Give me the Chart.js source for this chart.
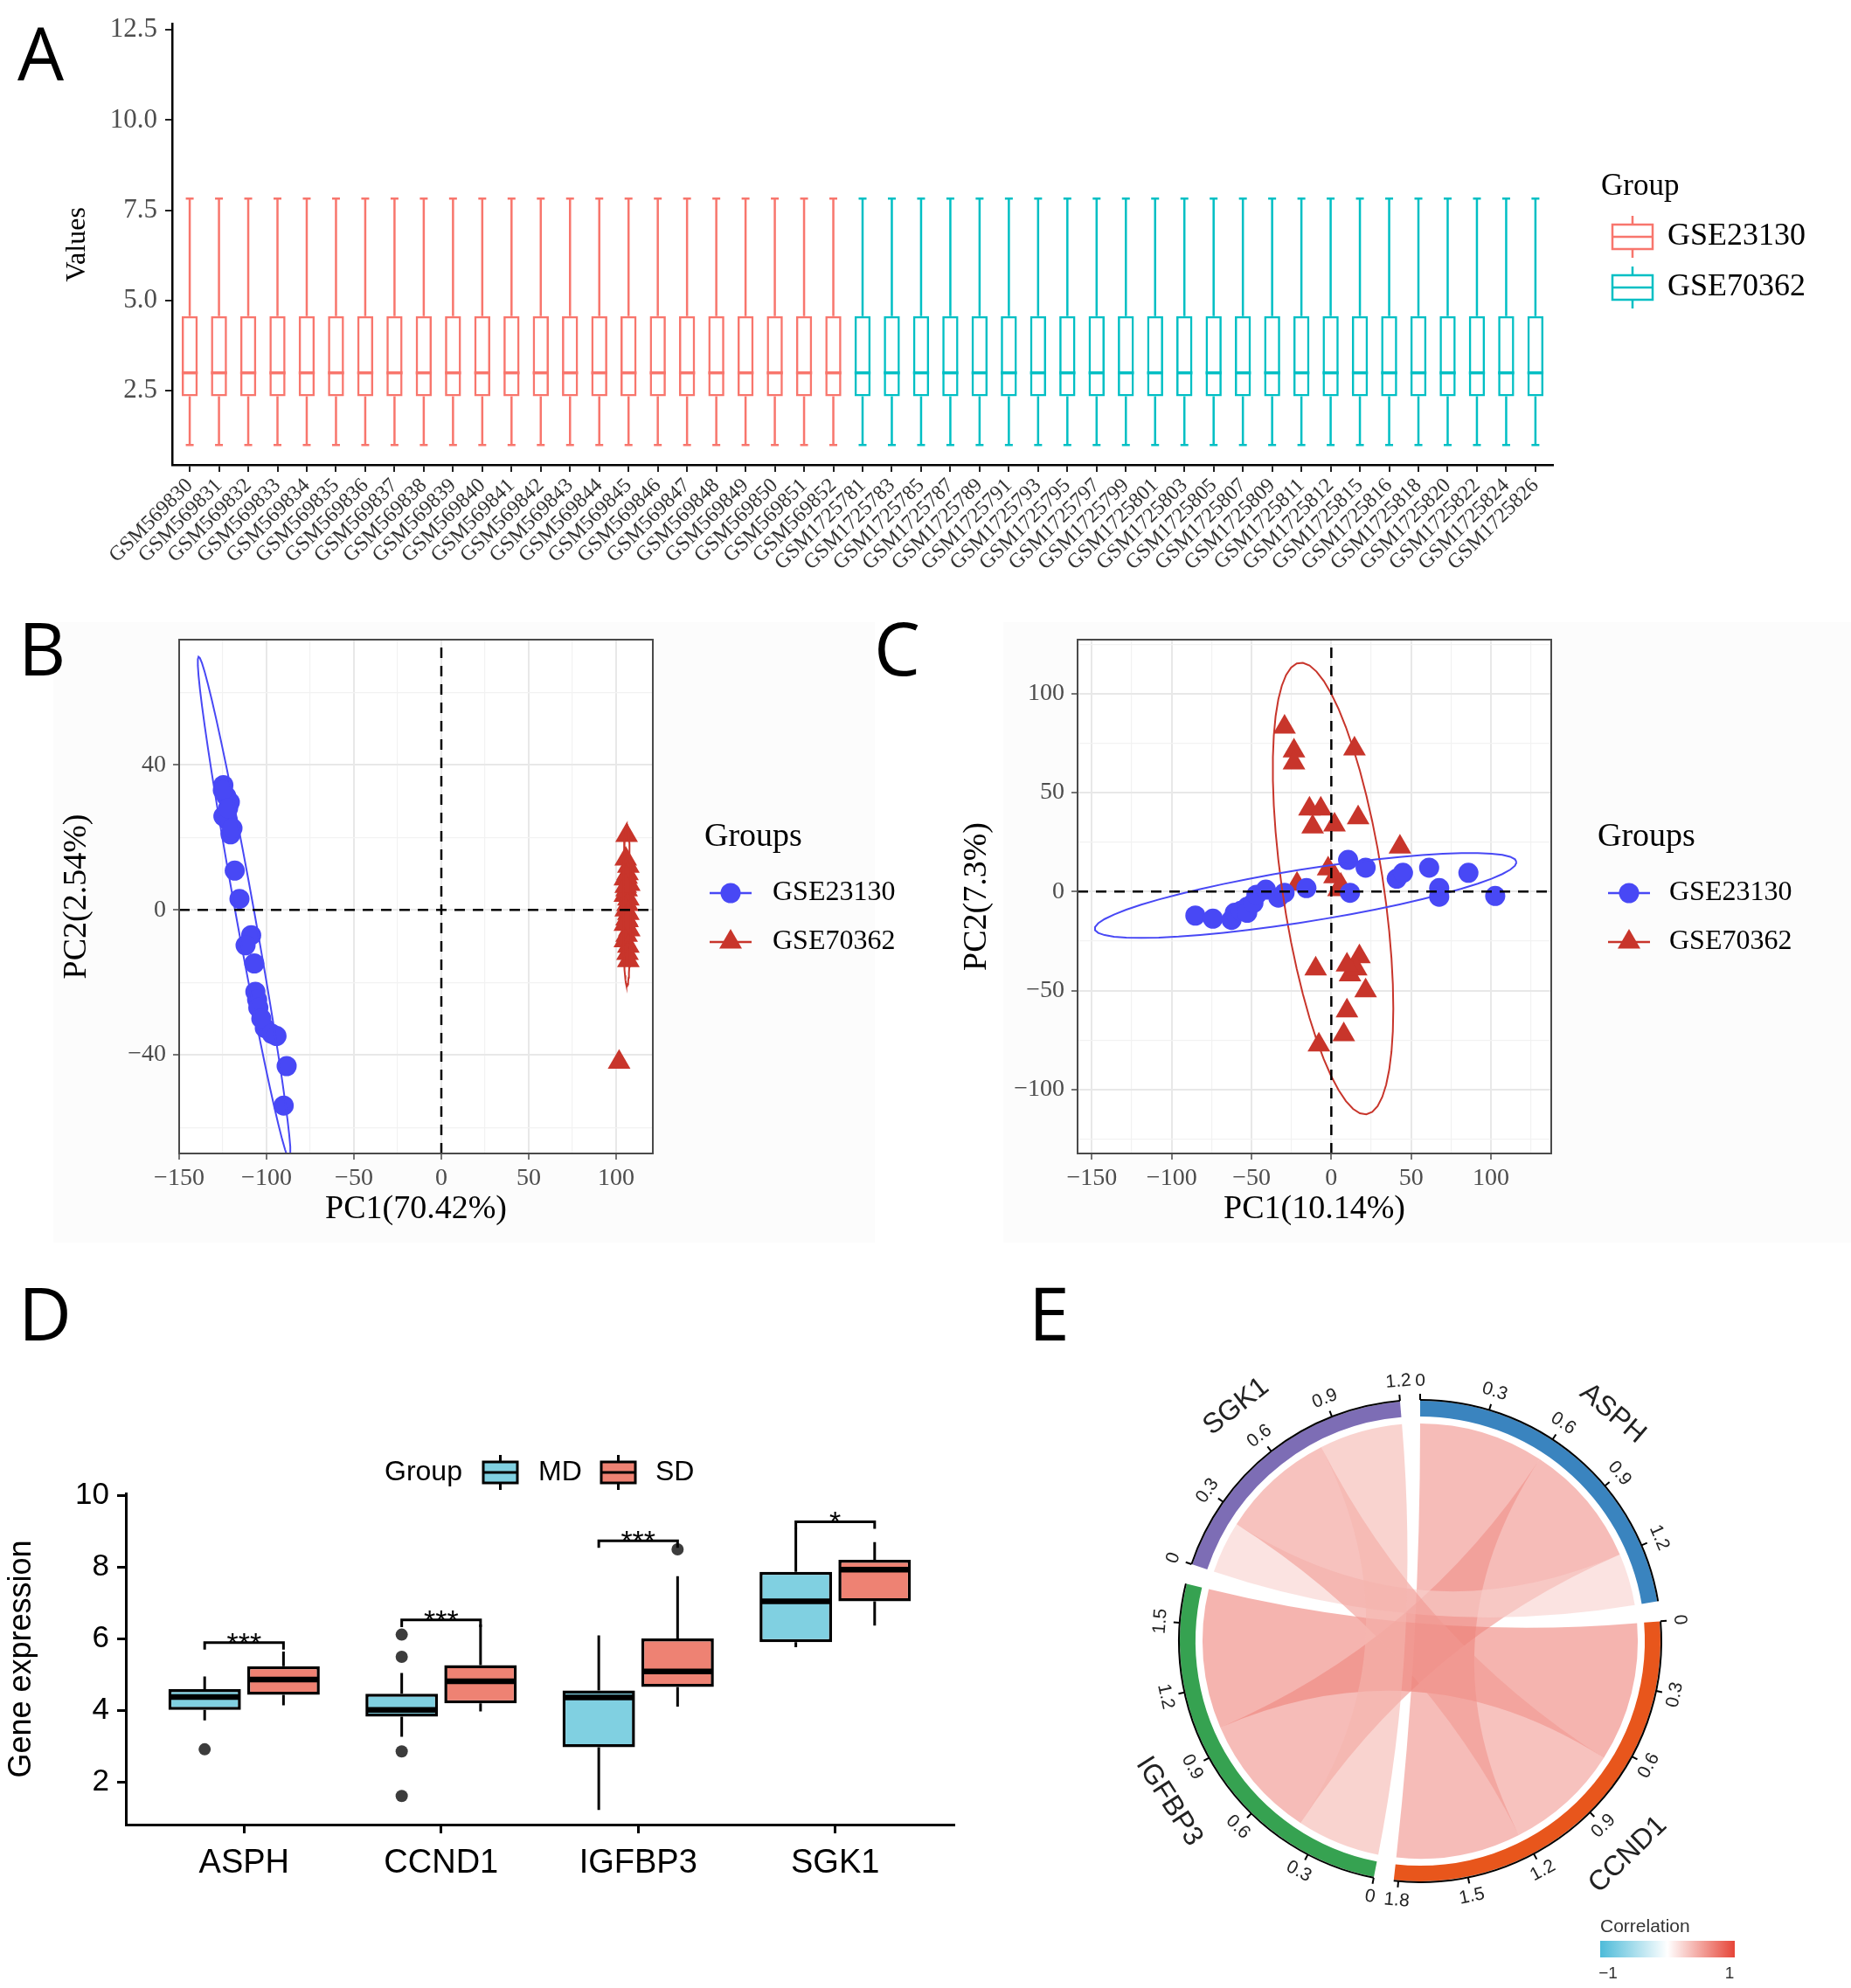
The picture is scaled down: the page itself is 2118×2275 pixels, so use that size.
<!DOCTYPE html>
<html lang="en">
<head>
  <meta charset="UTF-8">
  <title>Batch effect, PCA and hub gene figure</title>
  <style>
    body { margin: 0; background: #ffffff; }
    #page { position: relative; width: 2118px; height: 2275px; background: #ffffff; overflow: hidden; }
    canvas { position: absolute; }
    .shade { position: absolute; background: #fcfcfc; }
    .tag { position: absolute; font-family: 'Open Sans', 'Noto Sans', sans-serif; font-size: 84px; line-height: 1; color: #000; }
  </style>
</head>
<body>
<div id="page">
  <div class="shade" style="left:61px;top:712px;width:940px;height:710px"></div>
  <div class="shade" style="left:1148px;top:712px;width:970px;height:710px"></div>
  <canvas id="chartA" width="2118" height="690" style="left:0;top:0"></canvas>
  <canvas id="chartC" width="1118" height="720" style="left:1000px;top:700px"></canvas>
  <canvas id="chartB" width="1060" height="720" style="left:0;top:700px"></canvas>
  <canvas id="chartD" width="1130" height="835" style="left:0;top:1440px"></canvas>
  <canvas id="chartE" width="968" height="815" style="left:1150px;top:1460px"></canvas>
  <div class="tag" style="left:20px;top:18px">A</div>
  <div class="tag" style="left:21px;top:699px">B</div>
  <div class="tag" style="left:1000px;top:699px">C</div>
  <div class="tag" style="left:21px;top:1460px">D</div>
  <div class="tag" style="left:1177px;top:1460px">E</div>
</div>
<script src="https://cdn.jsdelivr.net/npm/chart.js"></script>
<script>
  const SERIF = "'Liberation Serif', 'Times New Roman', serif";
  const SANS = "'Liberation Sans', Arial, Helvetica, sans-serif";
  const fmtMinus = v => (v < 0 ? '\u2212' + Math.abs(v) : String(v));

  // ---------- A: per-sample expression boxplots ----------
  const samplesA = [
    'GSM569830', 'GSM569831', 'GSM569832', 'GSM569833', 'GSM569834', 'GSM569835', 'GSM569836', 'GSM569837',
    'GSM569838', 'GSM569839', 'GSM569840', 'GSM569841', 'GSM569842', 'GSM569843', 'GSM569844', 'GSM569845',
    'GSM569846', 'GSM569847', 'GSM569848', 'GSM569849', 'GSM569850', 'GSM569851', 'GSM569852',
    'GSM1725781', 'GSM1725783', 'GSM1725785', 'GSM1725787', 'GSM1725789', 'GSM1725791', 'GSM1725793', 'GSM1725795',
    'GSM1725797', 'GSM1725799', 'GSM1725801', 'GSM1725803', 'GSM1725805', 'GSM1725807', 'GSM1725809', 'GSM1725811',
    'GSM1725812', 'GSM1725815', 'GSM1725816', 'GSM1725818', 'GSM1725820', 'GSM1725822', 'GSM1725824', 'GSM1725826'
  ];
  const seriesA = ['GSE23130', 'GSE70362'];
  const seriesColorsA = ['#F8766D', '#00BFC4'];
  const lowA = [
    1.00, 1.00, 1.00, 1.00, 1.00, 1.00, 1.00, 1.00, 1.00, 1.00, 1.00, 1.00,
    1.00, 1.00, 1.00, 1.00, 1.00, 1.00, 1.00, 1.00, 1.00, 1.00, 1.00, 1.00,
    1.00, 1.00, 1.00, 1.00, 1.00, 1.00, 1.00, 1.00, 1.00, 1.00, 1.00, 1.00,
    1.00, 1.00, 1.00, 1.00, 1.00, 1.00, 1.00, 1.00, 1.00, 1.00, 1.00
  ];
  const q1A = [
    2.35, 2.35, 2.35, 2.35, 2.35, 2.35, 2.35, 2.35, 2.35, 2.35, 2.35, 2.35,
    2.35, 2.35, 2.35, 2.35, 2.35, 2.35, 2.35, 2.35, 2.35, 2.35, 2.35, 2.35,
    2.35, 2.35, 2.35, 2.35, 2.35, 2.35, 2.35, 2.35, 2.35, 2.35, 2.35, 2.35,
    2.35, 2.35, 2.35, 2.35, 2.35, 2.35, 2.35, 2.35, 2.35, 2.35, 2.35
  ];
  const medA = [
    3.00, 3.00, 3.00, 3.00, 3.00, 3.00, 3.00, 3.00, 3.00, 3.00, 3.00, 3.00,
    3.00, 3.00, 3.00, 3.00, 3.00, 3.00, 3.00, 3.00, 3.00, 3.00, 3.00, 3.00,
    3.00, 3.00, 3.00, 3.00, 3.00, 3.00, 3.00, 3.00, 3.00, 3.00, 3.00, 3.00,
    3.00, 3.00, 3.00, 3.00, 3.00, 3.00, 3.00, 3.00, 3.00, 3.00, 3.00
  ];
  const q3A = [
    4.57, 4.57, 4.57, 4.57, 4.57, 4.57, 4.57, 4.57, 4.57, 4.57, 4.57, 4.57,
    4.57, 4.57, 4.57, 4.57, 4.57, 4.57, 4.57, 4.57, 4.57, 4.57, 4.57, 4.57,
    4.57, 4.57, 4.57, 4.57, 4.57, 4.57, 4.57, 4.57, 4.57, 4.57, 4.57, 4.57,
    4.57, 4.57, 4.57, 4.57, 4.57, 4.57, 4.57, 4.57, 4.57, 4.57, 4.57
  ];
  const highA = [
    7.83, 7.83, 7.83, 7.83, 7.83, 7.83, 7.83, 7.83, 7.83, 7.83, 7.83, 7.83,
    7.83, 7.83, 7.83, 7.83, 7.83, 7.83, 7.83, 7.83, 7.83, 7.83, 7.83, 7.83,
    7.83, 7.83, 7.83, 7.83, 7.83, 7.83, 7.83, 7.83, 7.83, 7.83, 7.83, 7.83,
    7.83, 7.83, 7.83, 7.83, 7.83, 7.83, 7.83, 7.83, 7.83, 7.83, 7.83
  ];
  const yTicksA = [2.5, 5.0, 7.5, 10.0, 12.5];

  // ---------- B / C: PCA before and after batch correction ----------
  const pcaB23130 = [
    [-124.7, 34.4], [-123, 31.3], [-121, 29.7], [-124.7, 25.8], [-122.3, 24.7], [-120.6, 20.8],
    [-125, 33], [-122, 28], [-119.5, 22.5], [-118.2, 10.8], [-115.5, 3], [-108.8, -7],
    [-112, -9.8], [-107, -14.8], [-106.4, -22.6], [-105.4, -24.8], [-104.7, -27], [-101, -32.6],
    [-103, -30], [-97, -34.2], [-94.3, -34.8], [-88.5, -43.1], [-90.2, -54]
  ];
  const pcaB70362 = [
    [106, 20.5], [105.5, 14], [107, 12], [106.5, 10], [105, 8.5], [107.5, 7], [106, 5.5], [105, 4],
    [107, 3], [106.5, 1.5], [105.5, 0], [107, -1], [106, -2.5], [105, -4], [107.5, -5.5], [106, -7],
    [105, -8.5], [107, -10], [106.5, -12], [106, 9], [105.5, 6.5], [106.5, -3], [107, -14], [101.7, -42]
  ];
  const pcaC23130 = [
    [-85.2, -12.1], [-74.2, -13.7], [-62.5, -14.3], [-60.5, -10.7], [-56.6, -9.7], [-52.7, -7.7],
    [-52.7, -10.7], [-48.8, -5.7], [-46.9, -1.6], [-41, 1], [-33.2, -3], [-29.3, -0.6],
    [-15.6, 1.8], [10.5, 16], [21.5, 12.1], [11.7, -0.6], [41, 6.5], [44.9, 9.5],
    [61.3, 12.1], [67.6, 1.8], [67.6, -2.6], [85.9, 9.5], [102.7, -2.2]
  ];
  const pcaC70362 = [
    [-29.3, 83.2], [-23.4, 71.1], [-23.4, 65], [14.5, 72.1], [-13.7, 41.8], [-6.6, 41.8],
    [-11.7, 32.7], [2, 33.7], [16.8, 37.4], [43, 22.6], [-2, 11.5], [2, 7.5],
    [5.9, 3.4], [-21.5, 3.8], [-9.8, -39], [17.6, -32.9], [11.7, -42], [15.6, -39],
    [21.5, -50.1], [9.8, -60.2], [7.8, -72.3], [-7.8, -77.4], [9.8, -37], [4.5, 1]
  ];
  const groupsBC = ['GSE23130', 'GSE70362'];
  const groupColorsBC = ['#4848F5', '#C8352B'];
  const xTicksB = [-150, -125, -100, -75, -50, -25, 0, 25, 50, 75, 100];
  const yTicksB = [-60, -40, -20, 0, 20, 40, 60];
  const xTicksC = [-150, -125, -100, -75, -50, -25, 0, 25, 50, 75, 100, 125];
  const yTicksC = [-125, -100, -75, -50, -25, 0, 25, 50, 75, 100, 125];

  // ---------- D: hub gene expression, MD vs SD ----------
  const genesD = ['ASPH', 'CCND1', 'IGFBP3', 'SGK1'];
  const groupsD = ['MD', 'SD'];
  const groupColorsD = ['#80D0E1', '#EE8273'];
  const mdLow = [3.73, 3.27, 1.23, 5.77];
  const mdQ1 = [4.02, 3.83, 2.98, 5.91];
  const mdMed = [4.38, 4.02, 4.37, 7.05];
  const mdQ3 = [4.60, 4.47, 4.56, 7.87];
  const mdHigh = [4.95, 5.05, 6.10, 9.10];
  const mdOut = [[2.92], [6.12, 5.50, 2.86, 1.62], [], []];
  const sdLow = [4.15, 3.98, 4.11, 6.37];
  const sdQ1 = [4.44, 4.20, 4.66, 7.05];
  const sdMed = [4.87, 4.82, 5.09, 7.93];
  const sdQ3 = [5.24, 5.27, 6.01, 8.21];
  const sdHigh = [5.65, 6.40, 7.75, 8.70];
  const sdOut = [[], [], [8.50], []];
  const sigLevelD = [5.90, 6.53, 8.74, 9.27];
  const sigLabelD = ['***', '***', '***', '*'];
  const yTicksD = [2, 4, 6, 8, 10];

  // ---------- E: correlation chord diagram ----------
  const genesE = ['ASPH', 'CCND1', 'IGFBP3', 'SGK1'];
  const sectorColorsE = ['#3A84BF', '#E8561C', '#36A251', '#7D6DB5'];
  const corrE = [
    [1.00, 0.60, 0.60, 0.25],
    [0.60, 1.00, 0.67, 0.55],
    [0.60, 0.67, 1.00, 0.40],
    [0.25, 0.55, 0.40, 1.00]
  ];
  const axisStepE = 0.3;
  const gapDegE = 4.8;

  // ---------- shared plugins ----------
  const boxWhiskers = {
    id: 'boxWhiskers',
    afterDatasetsDraw(chart, args, opts) {
      const ctx = chart.ctx;
      const y = chart.scales.y;
      opts.sets.forEach(set => {
        const bars = chart.getDatasetMeta(set.dataset).data;
        bars.forEach((bar, i) => {
          const { x, width } = bar.getProps(['x', 'width'], true);
          const color = Array.isArray(set.color) ? set.color[i] : set.color;
          ctx.save();
          ctx.strokeStyle = color;
          ctx.lineWidth = set.lineWidth;
          ctx.beginPath();
          ctx.moveTo(x, y.getPixelForValue(set.q3[i]));
          ctx.lineTo(x, y.getPixelForValue(set.high[i]));
          ctx.moveTo(x, y.getPixelForValue(set.q1[i]));
          ctx.lineTo(x, y.getPixelForValue(set.low[i]));
          if (set.cap) {
            [set.high[i], set.low[i]].forEach(v => {
              const py = y.getPixelForValue(v);
              ctx.moveTo(x - set.cap / 2, py);
              ctx.lineTo(x + set.cap / 2, py);
            });
          }
          ctx.stroke();
          const inset = set.inset || 0;
          ctx.strokeStyle = set.medianColor || color;
          ctx.lineWidth = set.medianWidth;
          const ym = y.getPixelForValue(set.med[i]);
          ctx.beginPath();
          ctx.moveTo(x - width / 2 + inset, ym);
          ctx.lineTo(x + width / 2 - inset, ym);
          ctx.stroke();
          if (set.outliers) {
            ctx.fillStyle = '#3c3c3c';
            set.outliers[i].forEach(v => {
              ctx.beginPath();
              ctx.arc(x, y.getPixelForValue(v), 7, 0, Math.PI * 2);
              ctx.fill();
            });
          }
          ctx.restore();
        });
      });
    }
  };

  const panelFrame = {
    id: 'panelFrame',
    beforeDraw(chart) {
      const { ctx, chartArea: a } = chart;
      ctx.save();
      ctx.fillStyle = '#ffffff';
      ctx.fillRect(a.left, a.top, a.right - a.left, a.bottom - a.top);
      ctx.restore();
    },
    afterDraw(chart) {
      const { ctx, chartArea: a } = chart;
      ctx.save();
      ctx.strokeStyle = '#4a4a4a';
      ctx.lineWidth = 2;
      ctx.strokeRect(a.left, a.top, a.right - a.left, a.bottom - a.top);
      ctx.restore();
    }
  };

  const pcaLegend = {
    id: 'pcaLegend',
    afterDraw(chart, args, o) {
      const ctx = chart.ctx;
      ctx.save();
      ctx.textBaseline = 'middle';
      ctx.textAlign = 'left';
      ctx.fillStyle = '#000';
      ctx.font = `38px ${SERIF}`;
      ctx.fillText('Groups', o.x, o.y);
      groupsBC.forEach((g, k) => {
        const cy = o.y + 64 + k * 56;
        const c = groupColorsBC[k];
        ctx.strokeStyle = c;
        ctx.fillStyle = c;
        ctx.lineWidth = 2.5;
        ctx.beginPath();
        ctx.moveTo(o.keyX - 24, cy);
        ctx.lineTo(o.keyX + 24, cy);
        ctx.stroke();
        ctx.beginPath();
        if (k === 0) {
          ctx.arc(o.keyX, cy, 11.5, 0, Math.PI * 2);
        } else {
          const r = 15;
          ctx.moveTo(o.keyX, cy - r);
          ctx.lineTo(o.keyX + r * Math.sin(2 * Math.PI / 3), cy - r * Math.cos(2 * Math.PI / 3));
          ctx.lineTo(o.keyX + r * Math.sin(4 * Math.PI / 3), cy - r * Math.cos(4 * Math.PI / 3));
          ctx.closePath();
        }
        ctx.fill();
        ctx.fillStyle = '#000';
        ctx.font = `32px ${SERIF}`;
        ctx.fillText(g, o.textX, cy);
      });
      ctx.restore();
    }
  };

  // robust (multivariate t) 95% ellipse, like ggplot2::stat_ellipse
  function tEllipse(points, level) {
    const n = points.length, p = 2, nu = 5;
    let loc = [0, 0];
    points.forEach(q => { loc[0] += q[0] / n; loc[1] += q[1] / n; });
    let w = points.map(() => 1);
    let X = [];
    for (let it = 0; it < 25; it++) {
      const w0 = w.slice();
      X = points.map(q => [q[0] - loc[0], q[1] - loc[1]]);
      const sw = w.reduce((s, v) => s + v, 0);
      let a = 0, b = 0, c = 0;
      X.forEach((d, i) => {
        const k = w[i] / sw;
        a += k * d[0] * d[0]; b += k * d[0] * d[1]; c += k * d[1] * d[1];
      });
      const det = a * c - b * b;
      w = X.map(d => (nu + p) / (nu + (c * d[0] * d[0] - 2 * b * d[0] * d[1] + a * d[1] * d[1]) / det));
      const sw2 = w.reduce((s, v) => s + v, 0);
      loc = [0, 1].map(j => points.reduce((s, q, i) => s + w[i] * q[j], 0) / sw2);
      if (w.every((v, i) => Math.abs(v - w0[i]) < 0.01)) break;
    }
    let s11 = 0, s12 = 0, s22 = 0;
    X.forEach((d, i) => {
      s11 += w[i] * d[0] * d[0] / n; s12 += w[i] * d[0] * d[1] / n; s22 += w[i] * d[1] * d[1] / n;
    });
    const r11 = Math.sqrt(s11), r12 = s12 / r11, r22 = Math.sqrt(s22 - r12 * r12);
    const m = n - 1;
    const fq = (m / 2) * (Math.pow(1 - level, -2 / m) - 1);
    const radius = Math.sqrt(2 * fq);
    const out = [];
    for (let k = 0; k <= 51; k++) {
      const t = k * 2 * Math.PI / 51;
      const u = Math.cos(t), v = Math.sin(t);
      out.push({ x: loc[0] + radius * u * r11, y: loc[1] + radius * (u * r12 + v * r22) });
    }
    return out;
  }

  function pcaChart(id, blue, red, cfg) {
    const toXY = arr => arr.map(q => ({ x: q[0], y: q[1] }));
    const tickGrid = major => ({
      color: c => (c.tick && c.tick.value % major === 0 ? '#e8e8e8' : '#f2f2f2'),
      lineWidth: c => (c.tick && c.tick.value % major === 0 ? 2 : 1.2),
      tickColor: c => (c.tick && c.tick.value % major === 0 ? '#4a4a4a' : 'rgba(0,0,0,0)'),
      tickLength: 7,
      tickWidth: 1.5
    });
    return new Chart(document.getElementById(id), {
      type: 'scatter',
      data: {
        datasets: [
          { type: 'line', data: [{ x: 0, y: cfg.yMin }, { x: 0, y: cfg.yMax }], borderColor: '#000', borderWidth: 2.5, borderDash: [12, 9], pointRadius: 0, order: 0 },
          { type: 'line', data: [{ x: cfg.xMin, y: 0 }, { x: cfg.xMax, y: 0 }], borderColor: '#000', borderWidth: 2.5, borderDash: [12, 9], pointRadius: 0, order: 0 },
          { type: 'line', data: tEllipse(blue, 0.95), borderColor: groupColorsBC[0], borderWidth: 2, pointRadius: 0, tension: 0, order: 1 },
          { type: 'line', data: tEllipse(red, 0.95), borderColor: groupColorsBC[1], borderWidth: 2, pointRadius: 0, tension: 0, order: 1 },
          { data: toXY(blue), pointStyle: 'circle', pointRadius: 11.5, backgroundColor: groupColorsBC[0], borderWidth: 0, order: 2 },
          { data: toXY(red), pointStyle: 'triangle', pointRadius: 15, backgroundColor: groupColorsBC[1], borderWidth: 0, order: 2 }
        ]
      },
      options: {
        responsive: false, animation: false, devicePixelRatio: 1, events: [],
        layout: { padding: { left: 0, right: cfg.padRight, top: 32, bottom: 0 } },
        plugins: { legend: { display: false }, tooltip: { enabled: false }, pcaLegend: cfg.legend },
        scales: {
          x: {
            type: 'linear', min: cfg.xMin, max: cfg.xMax,
            afterBuildTicks: s => { s.ticks = cfg.xTicks.map(v => ({ value: v })); },
            afterFit: s => { s.height = 100; },
            ticks: { autoSkip: false, maxRotation: 0, padding: 5, color: '#4d4d4d', font: { family: SERIF, size: 28 }, callback: v => (v % 50 === 0 ? fmtMinus(v) : '') },
            grid: tickGrid(50),
            border: { display: false },
            title: { display: true, text: cfg.xTitle, color: '#000', font: { family: SERIF, size: 38 }, padding: { top: 0, bottom: 13 } }
          },
          y: {
            type: 'linear', min: cfg.yMin, max: cfg.yMax,
            afterBuildTicks: s => { s.ticks = cfg.yTicks.map(v => ({ value: v })); },
            afterFit: s => { s.width = cfg.yWidth; },
            ticks: { autoSkip: false, padding: 8, color: '#4d4d4d', font: { family: SERIF, size: 28 }, callback: v => (v % cfg.yMajor === 0 ? fmtMinus(v) : '') },
            grid: tickGrid(cfg.yMajor),
            border: { display: false },
            title: { display: true, text: cfg.yTitle, color: '#000', font: { family: SERIF, size: 38 }, padding: { top: cfg.yTitlePad, bottom: 0 } }
          }
        }
      },
      plugins: [panelFrame, pcaLegend]
    });
  }

  // ---------- chart A ----------
  const batchOf = s => (s.startsWith('GSM5698') ? 0 : 1);

  const groupLegendA = {
    id: 'groupLegendA',
    afterDraw(chart) {
      const ctx = chart.ctx;
      ctx.save();
      ctx.textBaseline = 'middle';
      ctx.textAlign = 'left';
      ctx.fillStyle = '#000';
      ctx.font = `35px ${SERIF}`;
      ctx.fillText('Group', 1832, 214);
      seriesA.forEach((name, k) => {
        const cy = 271 + k * 58;
        ctx.strokeStyle = seriesColorsA[k];
        ctx.lineWidth = 2.5;
        ctx.strokeRect(1845, cy - 14, 46, 28);
        ctx.beginPath();
        ctx.moveTo(1845, cy); ctx.lineTo(1891, cy);
        ctx.moveTo(1868, cy - 14); ctx.lineTo(1868, cy - 24);
        ctx.moveTo(1868, cy + 14); ctx.lineTo(1868, cy + 24);
        ctx.stroke();
        ctx.fillStyle = '#000';
        ctx.font = `36px ${SERIF}`;
        ctx.fillText(name, 1908, cy);
      });
      ctx.restore();
    }
  };

  const colorsA = samplesA.map(s => seriesColorsA[batchOf(s)]);
  new Chart(document.getElementById('chartA'), {
    type: 'bar',
    data: {
      datasets: [{
        data: samplesA.map((s, i) => ({ x: i + 1, y: [q1A[i], q3A[i]] })),
        backgroundColor: 'rgba(0,0,0,0)',
        borderColor: colorsA,
        borderWidth: 2.5,
        borderSkipped: false,
        barPercentage: 1,
        categoryPercentage: 0.55
      }]
    },
    options: {
      responsive: false, animation: false, devicePixelRatio: 1, events: [],
      layout: { padding: { left: 0, right: 341, top: 26, bottom: 0 } },
      plugins: {
        legend: { display: false }, tooltip: { enabled: false },
        boxWhiskers: { sets: [{ dataset: 0, low: lowA, q1: q1A, med: medA, q3: q3A, high: highA, color: colorsA, lineWidth: 2.5, cap: 9, medianWidth: 3.5 }] }
      },
      scales: {
        x: {
          type: 'linear', min: 0.4, max: 47.6, offset: false,
          afterBuildTicks: s => { s.ticks = samplesA.map((_, i) => ({ value: i + 1 })); },
          afterFit: s => { s.height = 158; },
          ticks: { autoSkip: false, minRotation: 45, maxRotation: 45, padding: 2, color: '#333', font: { family: SERIF, size: 24 }, callback: v => samplesA[v - 1] },
          grid: { drawOnChartArea: false, offset: false, tickLength: 8, color: '#222', lineWidth: 2 },
          border: { color: '#000', width: 2.5 }
        },
        y: {
          type: 'linear', min: 0.45, max: 12.66,
          afterBuildTicks: s => { s.ticks = yTicksA.map(v => ({ value: v })); },
          afterFit: s => { s.width = 197; },
          ticks: { padding: 9, color: '#4d4d4d', font: { family: SERIF, size: 31 }, callback: v => v.toFixed(1) },
          grid: { drawOnChartArea: false, tickLength: 8, color: '#222', lineWidth: 2 },
          border: { color: '#000', width: 2.5 },
          title: { display: true, text: 'Values', color: '#000', font: { family: SERIF, size: 32 }, padding: { top: 69, bottom: 0 } }
        }
      }
    },
    plugins: [boxWhiskers, groupLegendA]
  });

  // ---------- charts B and C ----------
  pcaChart('chartB', pcaB23130, pcaB70362, {
    xMin: -150, xMax: 121, yMin: -67.2, yMax: 74.5,
    xTicks: xTicksB, yTicks: yTicksB, yMajor: 40,
    xTitle: 'PC1(70.42%)', yTitle: 'PC2(2.54%)',
    yWidth: 205, yTitlePad: 65, padRight: 313,
    legend: { x: 806, y: 258, keyX: 836, textX: 884 }
  });
  pcaChart('chartC', pcaC23130, pcaC70362, {
    xMin: -159, xMax: 137.8, yMin: -132.3, yMax: 127.3,
    xTicks: xTicksC, yTicks: yTicksC, yMajor: 50,
    xTitle: 'PC1(10.14%)', yTitle: 'PC2(7.3%)',
    yWidth: 233, yTitlePad: 95, padRight: 343,
    legend: { x: 828, y: 258, keyX: 864, textX: 910 }
  });

  // ---------- chart D ----------
  const sigBrackets = {
    id: 'sigBrackets',
    afterDatasetsDraw(chart, args, o) {
      const ctx = chart.ctx, y = chart.scales.y;
      const md = chart.getDatasetMeta(0).data, sd = chart.getDatasetMeta(1).data;
      ctx.save();
      ctx.strokeStyle = '#000';
      ctx.fillStyle = '#000';
      ctx.lineWidth = 3;
      ctx.font = `34px ${SANS}`;
      ctx.textAlign = 'center';
      ctx.textBaseline = 'alphabetic';
      sigLevelD.forEach((lv, i) => {
        const x0 = md[i].x, x1 = sd[i].x;
        const yb = y.getPixelForValue(lv), yt = y.getPixelForValue(lv - 0.2);
        ctx.beginPath();
        ctx.moveTo(x0, yt); ctx.lineTo(x0, yb); ctx.lineTo(x1, yb); ctx.lineTo(x1, yt);
        ctx.stroke();
        ctx.fillText(sigLabelD[i], (x0 + x1) / 2, yb + 12);
      });
      ctx.restore();
    }
  };

  const groupLegendD = {
    id: 'groupLegendD',
    afterDraw(chart) {
      const ctx = chart.ctx;
      const cy = 245;
      ctx.save();
      ctx.textBaseline = 'middle';
      ctx.textAlign = 'left';
      ctx.fillStyle = '#000';
      ctx.font = `32px ${SANS}`;
      ctx.fillText('Group', 440, cy);
      const keys = [553, 688], texts = [616, 750];
      groupsD.forEach((g, k) => {
        const x = keys[k];
        ctx.fillStyle = groupColorsD[k];
        ctx.fillRect(x, cy - 12, 39, 24);
        ctx.strokeStyle = '#000';
        ctx.lineWidth = 3;
        ctx.strokeRect(x, cy - 12, 39, 24);
        ctx.beginPath();
        ctx.moveTo(x, cy); ctx.lineTo(x + 39, cy);
        ctx.moveTo(x + 19.5, cy - 12); ctx.lineTo(x + 19.5, cy - 20);
        ctx.moveTo(x + 19.5, cy + 12); ctx.lineTo(x + 19.5, cy + 20);
        ctx.stroke();
        ctx.fillStyle = '#000';
        ctx.fillText(g, texts[k], cy);
      });
      ctx.restore();
    }
  };

  new Chart(document.getElementById('chartD'), {
    type: 'bar',
    data: {
      datasets: [
        { label: 'MD', data: genesD.map((g, i) => ({ x: i + 1, y: [mdQ1[i], mdQ3[i]] })), backgroundColor: groupColorsD[0], borderColor: '#000', borderWidth: 3.5, borderSkipped: false, categoryPercentage: 0.8, barPercentage: 0.92 },
        { label: 'SD', data: genesD.map((g, i) => ({ x: i + 1, y: [sdQ1[i], sdQ3[i]] })), backgroundColor: groupColorsD[1], borderColor: '#000', borderWidth: 3.5, borderSkipped: false, categoryPercentage: 0.8, barPercentage: 0.92 }
      ]
    },
    options: {
      responsive: false, animation: false, devicePixelRatio: 1, events: [],
      layout: { padding: { left: 0, right: 39, top: 269, bottom: 0 } },
      plugins: {
        legend: { display: false }, tooltip: { enabled: false },
        boxWhiskers: {
          sets: [
            { dataset: 0, low: mdLow, q1: mdQ1, med: mdMed, q3: mdQ3, high: mdHigh, outliers: mdOut, color: '#000', lineWidth: 3, medianWidth: 6.5, inset: 2 },
            { dataset: 1, low: sdLow, q1: sdQ1, med: sdMed, q3: sdQ3, high: sdHigh, outliers: sdOut, color: '#000', lineWidth: 3, medianWidth: 6.5, inset: 2 }
          ]
        }
      },
      scales: {
        x: {
          type: 'linear', min: 0.4, max: 4.6, offset: false,
          afterBuildTicks: s => { s.ticks = genesD.map((_, i) => ({ value: i + 1 })); },
          afterFit: s => { s.height = 187; },
          ticks: { autoSkip: false, maxRotation: 0, padding: 12, color: '#000', font: { family: SANS, size: 38 }, callback: v => genesD[v - 1] },
          grid: { drawOnChartArea: false, offset: false, tickLength: 10, color: '#000', lineWidth: 3 },
          border: { color: '#000', width: 3 }
        },
        y: {
          type: 'linear', min: 0.82, max: 10.06,
          afterBuildTicks: s => { s.ticks = yTicksD.map(v => ({ value: v })); },
          afterFit: s => { s.width = 144; },
          ticks: { padding: 9, color: '#000', font: { family: SANS, size: 35 } },
          grid: { drawOnChartArea: false, tickLength: 10, color: '#000', lineWidth: 3 },
          border: { color: '#000', width: 3 },
          title: { display: true, text: 'Gene expression', color: '#000', font: { family: SANS, size: 36 }, padding: { top: 3, bottom: 0 } }
        }
      }
    },
    plugins: [boxWhiskers, sigBrackets, groupLegendD]
  });

  // ---------- chart E ----------
  const sizeE = genesE.map((g, i) => corrE[i].reduce((s, v, j) => s + (j === i ? 0 : Math.abs(v)), 0));
  const totalE = sizeE.reduce((s, v) => s + v, 0);
  const gapValE = totalE * gapDegE / (360 - genesE.length * gapDegE);
  const ringValues = [], ringColors = [];
  sizeE.forEach((v, i) => {
    ringValues.push(v, gapValE);
    ringColors.push(sectorColorsE[i], 'rgba(0,0,0,0)');
  });

  function corrColor(r, alpha) {
    const end = r >= 0 ? [230, 69, 56] : [77, 187, 217];
    const t = Math.min(Math.abs(r), 1);
    const c = end.map(v => Math.round(255 + (v - 255) * t));
    return `rgba(${c[0]},${c[1]},${c[2]},${alpha})`;
  }

  function tangentText(ctx, text, cx, cy, r, ang) {
    ctx.save();
    ctx.translate(cx + r * Math.cos(ang), cy + r * Math.sin(ang));
    ctx.rotate(Math.sin(ang) > 0.001 ? ang - Math.PI / 2 : ang + Math.PI / 2);
    ctx.textAlign = 'center';
    ctx.textBaseline = 'middle';
    ctx.fillText(text, 0, 0);
    ctx.restore();
  }

  const chordLayer = {
    id: 'chordLayer',
    afterDatasetsDraw(chart) {
      const ctx = chart.ctx;
      const arcs = chart.getDatasetMeta(0).data;
      const cx = arcs[0].x, cy = arcs[0].y;
      const outer = arcs[0].outerRadius, inner = arcs[0].innerRadius;
      const rc = inner - 8;
      const k = genesE.length;
      const sec = genesE.map((g, i) => {
        const a = arcs[i * 2];
        return { start: a.startAngle, end: a.endAngle, unit: (a.endAngle - a.startAngle) / sizeE[i] };
      });
      // link slots inside every sector: partners in clockwise order
      const slot = genesE.map(() => []);
      genesE.forEach((g, i) => {
        let off = 0;
        for (let s = 1; s < k; s++) {
          const j = (i + s) % k;
          const w = Math.abs(corrE[i][j]);
          slot[i][j] = [sec[i].start + off * sec[i].unit, sec[i].start + (off + w) * sec[i].unit];
          off += w;
        }
      });
      const pt = a => [cx + rc * Math.cos(a), cy + rc * Math.sin(a)];
      ctx.save();
      for (let i = 0; i < k; i++) {
        for (let j = i + 1; j < k; j++) {
          const [s0, s1] = slot[i][j], [t0, t1] = slot[j][i];
          ctx.beginPath();
          ctx.arc(cx, cy, rc, s0, s1);
          ctx.quadraticCurveTo(cx, cy, ...pt(t0));
          ctx.arc(cx, cy, rc, t0, t1);
          ctx.quadraticCurveTo(cx, cy, ...pt(s0));
          ctx.closePath();
          ctx.fillStyle = corrColor(corrE[i][j], 0.6);
          ctx.fill();
        }
      }
      // sector axes, ticks and names
      ctx.strokeStyle = '#000';
      ctx.fillStyle = '#222';
      sec.forEach((s, i) => {
        ctx.lineWidth = 2;
        ctx.beginPath();
        ctx.arc(cx, cy, outer + 1, s.start, s.end);
        ctx.stroke();
        ctx.font = `21px ${SANS}`;
        for (let t = 0; t <= sizeE[i] + 1e-9; t += axisStepE) {
          const a = s.start + t * s.unit;
          ctx.beginPath();
          ctx.moveTo(cx + (outer + 1) * Math.cos(a), cy + (outer + 1) * Math.sin(a));
          ctx.lineTo(cx + (outer + 8) * Math.cos(a), cy + (outer + 8) * Math.sin(a));
          ctx.stroke();
          const lab = t < 1e-9 ? '0' : (Math.round(t * 10) / 10).toFixed(1);
          tangentText(ctx, lab, cx, cy, outer + 23, a);
        }
        ctx.font = `32px ${SANS}`;
        tangentText(ctx, genesE[i], cx, cy, outer + 66, (s.start + s.end) / 2);
      });
      // correlation colour key
      const lx = 681, ly = 761;
      ctx.fillStyle = '#333';
      ctx.font = `21px ${SANS}`;
      ctx.textAlign = 'left';
      ctx.textBaseline = 'middle';
      ctx.fillText('Correlation', lx, ly - 16);
      const grad = ctx.createLinearGradient(lx, 0, lx + 154, 0);
      grad.addColorStop(0, corrColor(-1, 1));
      grad.addColorStop(0.5, corrColor(0, 1));
      grad.addColorStop(1, corrColor(1, 1));
      ctx.fillStyle = grad;
      ctx.fillRect(lx, ly, 154, 19);
      ctx.fillStyle = '#333';
      ctx.font = `19px ${SANS}`;
      ctx.textAlign = 'center';
      ctx.fillText('\u22121', lx + 9, ly + 38);
      ctx.fillText('1', lx + 148, ly + 38);
      ctx.restore();
    }
  };

  new Chart(document.getElementById('chartE'), {
    type: 'doughnut',
    data: {
      labels: ringValues.map((v, i) => (i % 2 === 0 ? genesE[i / 2] : '')),
      datasets: [{ data: ringValues, backgroundColor: ringColors, borderWidth: 0, hoverOffset: 0 }]
    },
    options: {
      responsive: false, animation: false, devicePixelRatio: 1, events: [],
      rotation: 0, circumference: 360, cutout: 258, radius: 275,
      layout: { padding: { left: 199, right: 217, top: 142, bottom: 121 } },
      plugins: { legend: { display: false }, tooltip: { enabled: false } }
    },
    plugins: [chordLayer]
  });
</script>
</body>
</html>
